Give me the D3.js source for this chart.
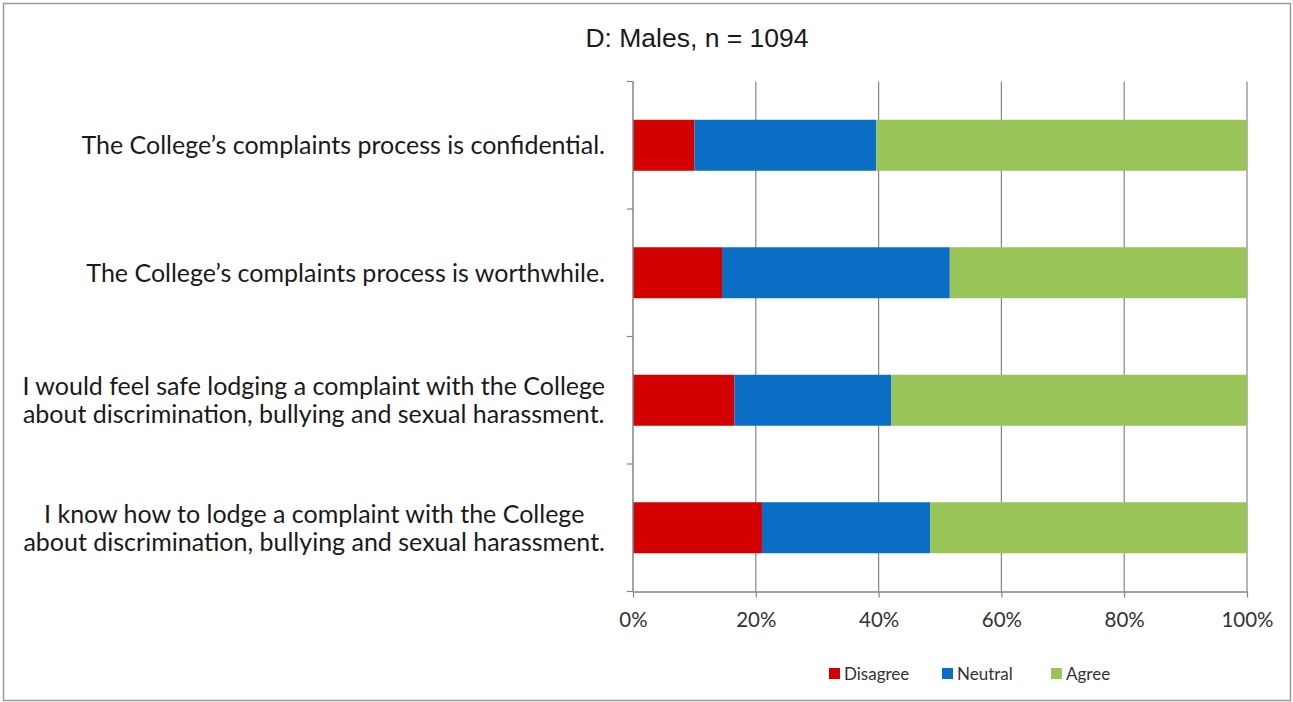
<!DOCTYPE html>
<html>
<head>
<meta charset="utf-8">
<script src="https://cdn.jsdelivr.net/npm/d3@7"></script>
<style>
  html, body { margin: 0; padding: 0; background: #fff; }
  svg { display: block; }
</style>
</head>
<body>
<svg id="chart" width="1293" height="702"></svg>
<script>
// Survey statements, top to bottom (line breaks split the long labels)
const categories = [
  "The College\u2019s complaints process is confidential.",
  "The College\u2019s complaints process is worthwhile.",
  "I would feel safe lodging a complaint with the College\nabout discrimination, bullying and sexual harassment.",
  "I know how to lodge a complaint with the College\nabout discrimination, bullying and sexual harassment."
];
const seriesNames = ["Disagree", "Neutral", "Agree"];
const disagree = [10.0, 14.5, 16.5, 21.0];
const neutral  = [29.6, 37.1, 25.6, 27.4];
const agree    = [60.4, 48.4, 57.9, 51.6];
const tickValues = [0, 20, 40, 60, 80, 100];
const title = "D: Males, n = 1094";

const colors = { Disagree: "#d20000", Neutral: "#0a6fc4", Agree: "#98c458" };

const rows = categories.map((c, i) => ({
  category: c, Disagree: disagree[i], Neutral: neutral[i], Agree: agree[i]
}));

const svg = d3.select("#chart");
const W = 1293, H = 702;

// outer frame
svg.append("rect")
  .attr("x", 3.5).attr("y", 3.5).attr("width", W - 6).attr("height", H - 5)
  .attr("fill", "#fff").attr("stroke", "#9a9a9a").attr("stroke-width", 1.5);

const plot = { left: 633, right: 1247, top: 81.5, bottom: 591.5 };

const x = d3.scaleLinear().domain([0, 100]).range([plot.left, plot.right]);
const y = d3.scaleBand().domain(categories).range([plot.top, plot.bottom])
  .paddingInner(0.6).paddingOuter(0.3);

// title
svg.append("text")
  .attr("x", 697).attr("y", 47)
  .attr("text-anchor", "middle")
  .attr("font-family", "Liberation Sans, Arial, sans-serif")
  .attr("font-size", 26.5)
  .attr("fill", "#1a1a1a")
  .text(title);

// vertical gridlines
svg.append("g")
  .selectAll("line")
  .data(tickValues.slice(1))
  .join("line")
  .attr("x1", d => x(d)).attr("x2", d => x(d))
  .attr("y1", plot.top).attr("y2", plot.bottom)
  .attr("stroke", "#858585").attr("stroke-width", 1.2);

// stacked bars
const stack = d3.stack().keys(seriesNames);
const layers = stack(rows);

svg.append("g")
  .selectAll("g")
  .data(layers)
  .join("g")
  .attr("fill", d => colors[d.key])
  .selectAll("rect")
  .data(d => d)
  .join("rect")
  .attr("x", d => x(d[0]))
  .attr("width", d => x(d[1]) - x(d[0]))
  .attr("y", d => y(d.data.category))
  .attr("height", y.bandwidth());

// bottom axis
const xAxis = d3.axisBottom(x)
  .tickValues(tickValues)
  .tickFormat(d => d + "%")
  .tickSize(6)
  .tickSizeOuter(0);

const gx = svg.append("g")
  .attr("transform", `translate(0,${plot.bottom})`)
  .call(xAxis);
gx.select(".domain").attr("stroke", "#858585").attr("stroke-width", 1.5);
gx.selectAll(".tick line").attr("stroke", "#858585").attr("stroke-width", 1.2);
gx.selectAll(".tick text")
  .attr("y", 21)
  .attr("font-family", "Lato, 'Open Sans', sans-serif")
  .attr("font-size", 20.5)
  .attr("fill", "#333");

// left axis with ticks on category boundaries
const gy = svg.append("g");
gy.append("line")
  .attr("x1", plot.left).attr("x2", plot.left)
  .attr("y1", plot.top).attr("y2", plot.bottom)
  .attr("stroke", "#858585").attr("stroke-width", 1.5);
const boundaries = d3.range(categories.length + 1).map(i => plot.top + i * (plot.bottom - plot.top) / categories.length);
gy.selectAll("line.tk")
  .data(boundaries)
  .join("line")
  .attr("class", "tk")
  .attr("x1", plot.left - 6).attr("x2", plot.left)
  .attr("y1", d => d).attr("y2", d => d)
  .attr("stroke", "#858585").attr("stroke-width", 1.2);

// category labels: the block is right aligned to the axis, wrapped lines centred within it
const lineH = 28;
const labelRight = 605;
const labels = svg.append("g")
  .attr("font-family", "Lato, 'Open Sans', sans-serif")
  .attr("font-size", 25)
  .attr("fill", "#1a1a1a")
  .attr("text-anchor", "middle");
categories.forEach(c => {
  const lines = c.split("\n");
  const cy = y(c) + y.bandwidth() / 2;
  const t = labels.append("text")
    .attr("y", cy - (lines.length - 1) * lineH / 2);
  const spans = lines.map((ln, j) =>
    t.append("tspan").attr("dy", j === 0 ? "0.35em" : lineH).text(ln));
  const maxW = d3.max(spans, s => s.node().getComputedTextLength());
  const cx = labelRight - maxW / 2;
  spans.forEach(s => s.attr("x", cx));
});

// legend
const legendX = [829, 942, 1051];
const legend = svg.append("g")
  .attr("font-family", "Lato, 'Open Sans', sans-serif")
  .attr("font-size", 17)
  .attr("fill", "#333");
seriesNames.forEach((s, i) => {
  legend.append("rect")
    .attr("x", legendX[i]).attr("y", 668)
    .attr("width", 11).attr("height", 11)
    .attr("fill", colors[s]);
  legend.append("text")
    .attr("x", legendX[i] + 15).attr("y", 674)
    .attr("dy", "0.35em")
    .text(s);
});
</script>
</body>
</html>
